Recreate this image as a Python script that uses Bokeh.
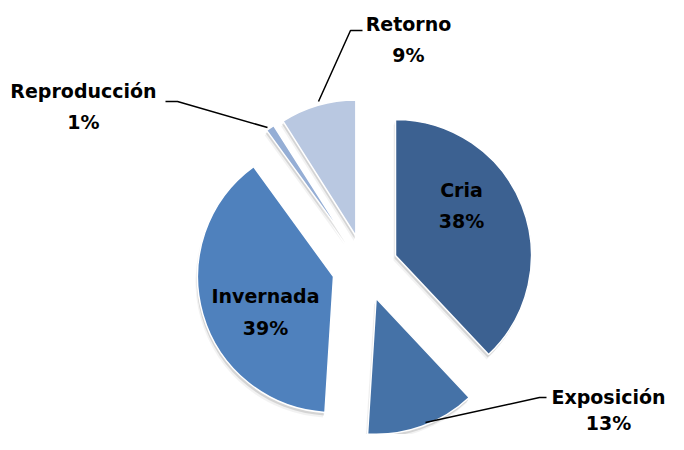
import numpy as np
from bokeh.plotting import figure
from bokeh.models import Range1d, ColumnDataSource
from bokeh.core.properties import value
from bokeh.embed import file_html
from bokeh.resources import INLINE

# ---- data ----
categories = ["Cria", "Exposición", "Invernada", "Reproducción", "Retorno"]
shares = [38, 13, 39, 1, 9]
pct_labels = ["38%", "13%", "39%", "1%", "9%"]
colors = ["#3C6191", "#4572A7", "#4F81BD", "#95AED5", "#B9C8E1"]

# ---- layout (picture-pixel coordinates; y measured downward) ----
W, H = 668, 434
CX, CY = 364.5, 267.0   # pie centre
R = 136.0               # radius
EXPLODE = 32.8          # explosion distance
TEXT_SHIFT = 8          # compensation for text baseline placement

FONT = value("DejaVu Sans")
FS = "19px"

vals = np.array(shares, dtype=float)
cum = np.cumsum(vals)
a_end = cum / vals.sum() * 360.0
a_start = a_end - vals / vals.sum() * 360.0
a_mid = (a_start + a_end) / 2.0

xs = CX + EXPLODE * np.sin(np.radians(a_mid))
ys = -CY + EXPLODE * np.cos(np.radians(a_mid))
start = np.radians(90.0 - a_end)
end = np.radians(90.0 - a_start)

src = ColumnDataSource(dict(x=xs, y=ys, start=start, end=end, color=colors,
                            cat=categories, share=shares))
shadow = ColumnDataSource(dict(x=xs - 1.0, y=ys - 3.0, start=start, end=end))
shadow2 = ColumnDataSource(dict(x=xs - 2.0, y=ys - 5.0, start=start, end=end))

p = figure(width=W, height=H, output_backend="svg", toolbar_location=None,
           x_range=Range1d(0, W), y_range=Range1d(-H, 0),
           min_border=0)
p.axis.visible = False
p.grid.visible = False
p.outline_line_color = None
p.background_fill_color = "white"
p.border_fill_color = "white"

p.wedge(x="x", y="y", radius=R, start_angle="start", end_angle="end",
        fill_color="black", fill_alpha=0.05, line_color=None, source=shadow2)
p.wedge(x="x", y="y", radius=R, start_angle="start", end_angle="end",
        fill_color="black", fill_alpha=0.12, line_color=None, source=shadow)
p.wedge(x="x", y="y", radius=R, start_angle="start", end_angle="end",
        fill_color="color", line_color="white", line_width=1.5, source=src)

# labels: (x centre, name baseline, pct baseline) in picture pixels
label_pos = {
    "Cria": (461, 197, 228),
    "Exposición": (608, 404, 430),
    "Invernada": (265, 303, 335),
    "Reproducción": (83, 98, 129),
    "Retorno": (408, 31, 62),
}
lx, ly1, ly2, names, pcts = [], [], [], [], []
for c, pl in zip(categories, pct_labels):
    x0, y1, y2 = label_pos[c]
    lx.append(x0)
    ly1.append(-(y1 - TEXT_SHIFT))
    ly2.append(-(y2 - TEXT_SHIFT))
    names.append(c); pcts.append(pl)

p.text(x=lx, y=ly1, text=names, text_font=FONT, text_font_style="bold",
       text_font_size=FS, text_align="center", text_baseline="alphabetic",
       text_color="black")
p.text(x=lx, y=ly2, text=pcts, text_font=FONT, text_font_style="bold",
       text_font_size=FS, text_align="center", text_baseline="alphabetic",
       text_color="black")

# leader lines
leaders = [
    ([318, 350, 362], [101, 30, 30]),     # Retorno
    ([267, 177, 165], [127, 101, 101]),   # Reproducción
    ([425, 539, 546], [422, 397, 397]),   # Exposición
]
for lxs, lys in leaders:
    p.line(x=lxs, y=[-v for v in lys], line_color="black", line_width=1.5)

open("out.html", "w").write(file_html(p, INLINE))
